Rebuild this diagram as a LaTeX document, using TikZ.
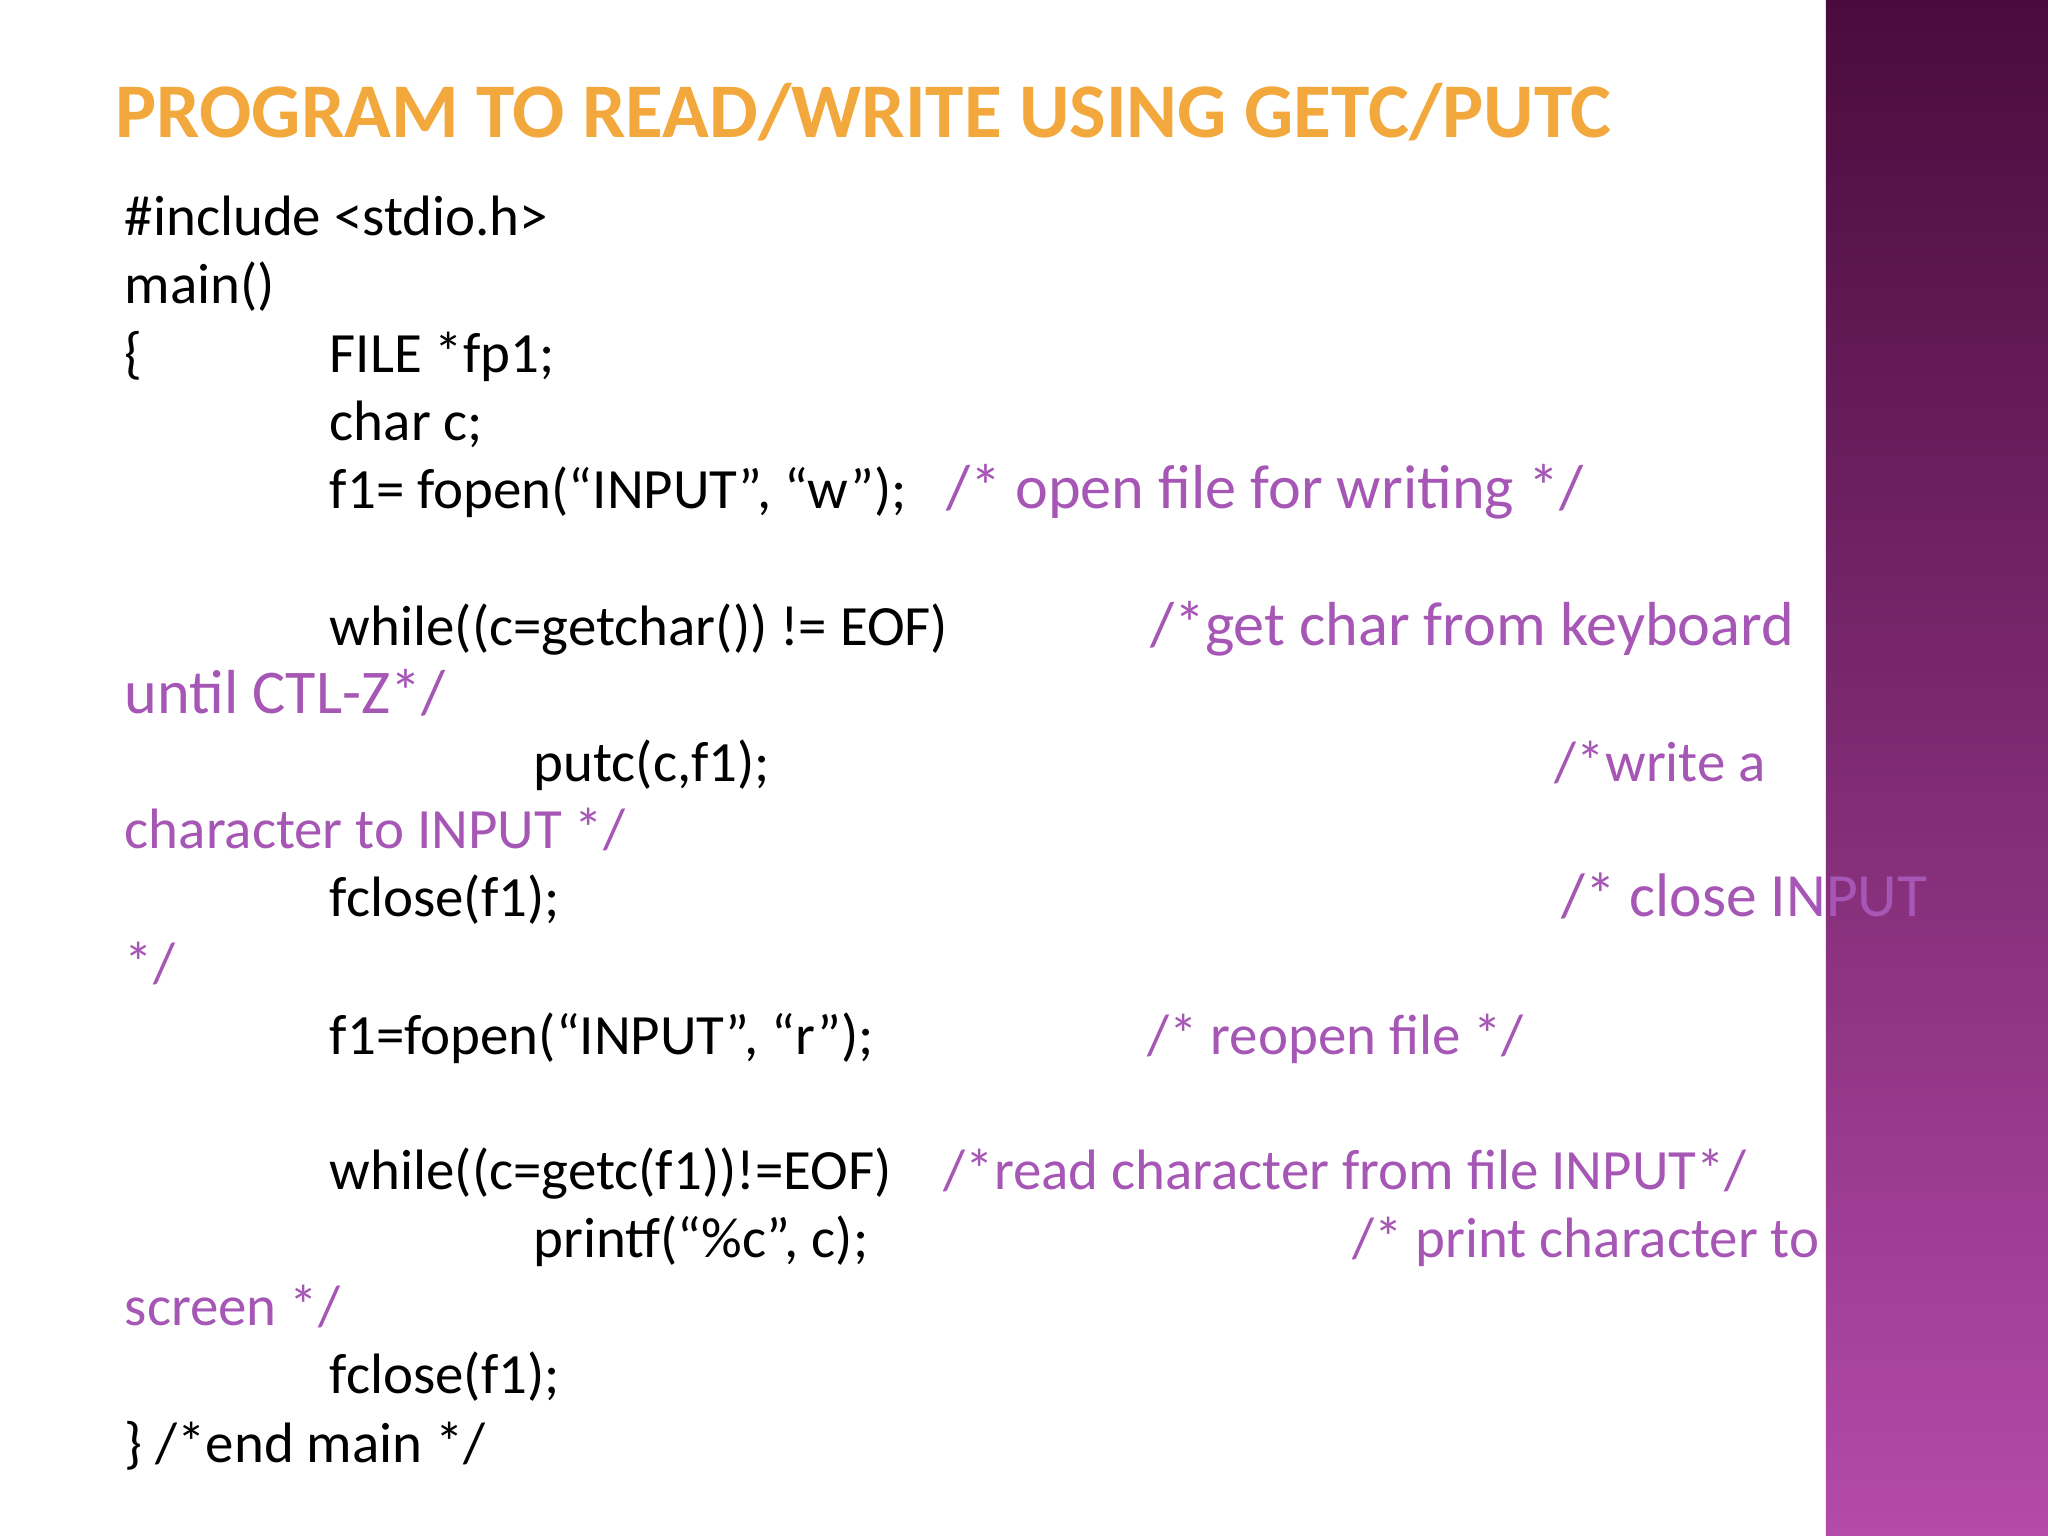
\documentclass[tikz,border=0pt]{standalone}
\usepackage{fontspec}
\setmainfont{Carlito}
\definecolor{cm}{HTML}{A656B4}
\definecolor{ttl}{HTML}{F2A83C}
\definecolor{ptop}{HTML}{4A0B3C}
\definecolor{pbot}{HTML}{B44AAA}
\tikzset{code/.style={anchor=base west,inner sep=0pt,font=\fontsize{16.2pt}{18pt}\selectfont},
 cmt/.style={code,text=cm}}
\begin{document}
\begin{tikzpicture}[x=0.01306cm,y=-0.01306cm]
\useasboundingbox (0,0) rectangle (1568,1176);
\fill[white] (0,0) rectangle (1568,1176);
\shade[top color=ptop,bottom color=pbot] (1398,0) rectangle (1568,1176);
\node[anchor=base west,inner sep=0pt,text=ttl,font=\fontsize{22pt}{26pt}\selectfont\bfseries] (t) at (88,105) {PROGRAM TO READ/WRITE USING GETC/PUTC};
\node[code] (l1) at (95,180) {\#include <stdio.h>};
\node[code] (l2) at (95,232) {main()};
\node[code] (l3) at (95,285) {\{};
\node[code] (l3b) at (252,285) {FILE *fp1;};
\node[code] (l4) at (252,337) {char c;};
\node[code] (l5) at (252,389) {f1= fopen(“INPUT”, “w”);};
\node[cmt,font=\fontsize{17.7pt}{20pt}\selectfont] (c5) at (724,389) {/* open file for writing */};
\node[code] (l6) at (252,494) {while((c=getchar()) != EOF)};
\node[cmt,font=\fontsize{17.7pt}{20pt}\selectfont] (c6) at (880,494) {/*get char from keyboard};
\node[cmt,font=\fontsize{17.7pt}{20pt}\selectfont] (c6b) at (95,546) {until CTL-Z*/};
\node[code] (l7) at (408,598) {putc(c,f1);};
\node[cmt] (c7) at (1190,598) {/*write a};
\node[cmt] (c7b) at (95,650) {character to INPUT */};
\node[code] (l8) at (252,702) {fclose(f1);};
\node[cmt,font=\fontsize{17.5pt}{20pt}\selectfont] (c8) at (1195,702) {/* close INPUT};
\node[cmt] (c8b) at (95,752) {*/};
\node[code] (l9) at (252,807) {f1=fopen(“INPUT”, “r”);};
\node[cmt] (c9) at (878,807) {/* reopen file */};
\node[code] (l10) at (252,911) {while((c=getc(f1))!=EOF)};
\node[cmt] (c10) at (722,911) {/*read character from file INPUT*/};
\node[code] (l11) at (408,963) {printf(“\%c”, c);};
\node[cmt] (c11) at (1035,963) {/* print character to};
\node[cmt] (c11b) at (95,1015) {screen */};
\node[code] (l12) at (252,1067) {fclose(f1);};
\node[code] (l13) at (95,1120) {\} /*end main */};
\end{tikzpicture}
\end{document}
